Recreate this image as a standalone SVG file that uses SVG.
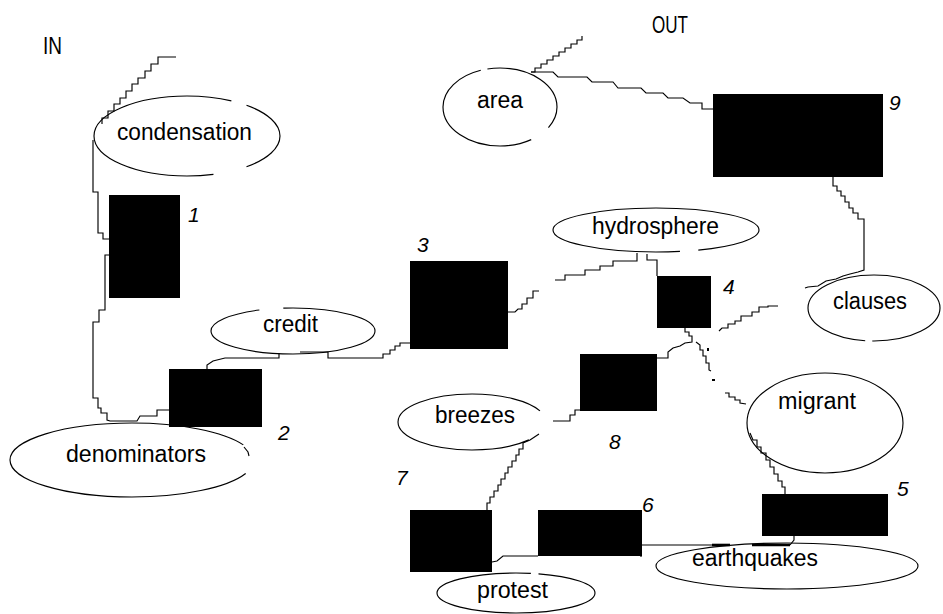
<svg xmlns="http://www.w3.org/2000/svg" width="943" height="614" viewBox="0 0 943 614">
<style>
.bg{fill:#fff}
.e{fill:none;stroke:#000;stroke-width:1.15}
.c{fill:none;stroke:#000;stroke-width:1.15;stroke-linejoin:miter}
.ct{fill:none;stroke:#000;stroke-width:2.6}
.r{fill:#000;stroke:none}
.t{font-family:"Liberation Sans",Arial,sans-serif;font-size:19px;fill:#000}
.n{font-family:"Liberation Sans",Arial,sans-serif;font-size:21px;font-style:italic;fill:#000}
</style>
<rect class="bg" x="0" y="0" width="943" height="614"/>
<text class="t" transform="translate(43,54) scale(1,1.3)" textLength="19" lengthAdjust="spacingAndGlyphs">IN</text>
<text class="t" transform="translate(652,33) scale(1,1.3)" textLength="36" lengthAdjust="spacingAndGlyphs">OUT</text>

<g id="connectors">
<polyline class="c" points="102,124 102,118 108,118 108,111 114,111 114,104 120,104 120,98 126,98 126,91 132,91 132,84 138,84 138,78 145,78 145,71 151,71 151,64 158,64 158,57 176,57"/>
<polyline class="c" points="93,140 93,192 98,192 98,233 103,233 103,239 109,239"/>
<polyline class="c" points="109,255 105,255 105,310 99,310 99,322 93,322 93,398 98,398 98,408 101,408 101,413 107,413 107,420 110,421 137,421 140,416 157,416 157,410 169,410"/>
<polyline class="c" points="279,353 279,358 225,358 213,361 207,365 207,369"/>
<polyline class="c" points="300,352 328,352 328,358 383,358 383,354 390,354 390,350 395,350 395,346 400,346 400,343 410,343"/>
<polyline class="c" points="508,312 515,312 518,309 522,309 522,304 527,304 527,298 533,298 533,291 539,291"/>
<polyline class="c" points="637,253 637,261 613,261 613,266 600,266 600,270 585,270 585,275 565,275 565,280 555,280"/>
<polyline class="c" points="647,254 647,260 657,260 657,276"/>
<polyline class="c" points="685,328 685,332 689,332 689,336 692,336 692,342 685,343 680,346 673,348 668,352 668,358 657,358"/>
<polyline class="c" points="696,342 700,345 700,350 703,350 703,356 706,356 706,363 709,363 709,370 711,371"/>
<rect class="r" x="707" y="348" width="2" height="3"/>
<rect class="r" x="712" y="379" width="3" height="2"/>
<polyline class="c" points="725,393 729,393 729,397 735,397 735,400 740,400 740,403 746,404"/>
<polyline class="c" points="719,331 722,328 728,328 728,324 735,324 735,321 741,321 741,316 752,316 752,312 759,312 759,307 768,307 768,306 778,306"/>
<polyline class="c" points="833,177 833,186 837,186 837,191 841,191 841,196 845,196 845,202 849,202 849,208 853,208 853,213 858,213 858,219 864,219 864,270 858,272 850,274 843,276 836,279 826,281 818,286 808,287 805,288"/>
<polyline class="c" points="531,72 535,72 535,68 541,68 541,64 547,64 547,60 553,60 553,56 559,56 559,52 565,52 565,48 571,48 571,44 577,44 577,40 582,40 582,36"/>
<polyline class="c" points="531,72 553,72 558,77 587,77 592,82 613,82 618,88 641,88 646,93 663,93 668,98 683,98 690,103 702,103 702,109 713,109"/>
<polyline class="c" points="580,410 575,410 575,415 570,415 570,421 553,421"/>
<polyline class="c" points="539,434 530,440 523,443 523,449 519,449 519,455 516,455 516,461 512,461 512,467 508,467 508,473 505,473 505,479 501,479 501,485 498,485 498,491 494,491 494,497 490,497 490,503 487,503 487,510"/>
<polyline class="c" points="492,562 497,561 503,556 538,556"/>
<polyline class="c" points="641,517 641,557"/>
<polyline class="c" points="641,545 712,545"/>
<polyline class="ct" points="712,545 730,545"/>
<polyline class="c" points="794,536 794,540 790,545"/>
<polyline class="ct" points="790,545 752,545"/>
<polyline class="c" points="750,433 753,440 757,440 757,447 761,447 761,453 766,453 766,460 770,460 770,467 774,467 774,474 778,474 778,481 782,481 782,487 785,487 785,494"/>
<polyline class="c" points="244,447 248,452 249,456"/>
</g>

<g id="condensation">
<ellipse class="e" cx="187" cy="136" rx="93" ry="40" pathLength="360" stroke-dasharray="40 28 239 13 40"/>
<text class="t" transform="translate(117,140) scale(1,1.3)" textLength="135" lengthAdjust="spacingAndGlyphs">condensation</text>
</g>
<g id="area">
<ellipse class="e" cx="500" cy="107" rx="57" ry="39" pathLength="360" stroke-dasharray="27 25 195 8 105"/>
<text class="t" transform="translate(477,108) scale(1,1.3)" textLength="46" lengthAdjust="spacingAndGlyphs">area</text>
</g>
<g id="credit">
<ellipse class="e" cx="293" cy="331" rx="82" ry="23" pathLength="360" stroke-dasharray="236 24 100"/>
<text class="t" transform="translate(263,332) scale(1,1.3)" textLength="55" lengthAdjust="spacingAndGlyphs">credit</text>
</g>
<g id="denominators">
<ellipse class="e" cx="132" cy="460" rx="122" ry="37" pathLength="360" stroke-dasharray="336 24" stroke-dashoffset="349"/>
<text class="t" transform="translate(66,462) scale(1,1.3)" textLength="140" lengthAdjust="spacingAndGlyphs">denominators</text>
</g>
<g id="hydrosphere">
<ellipse class="e" cx="656" cy="230" rx="103" ry="22" pathLength="360" stroke-dasharray="55 15 290"/>
<text class="t" transform="translate(592,234) scale(1,1.3)" textLength="127" lengthAdjust="spacingAndGlyphs">hydrosphere</text>
</g>
<g id="clauses">
<ellipse class="e" cx="874" cy="308" rx="66" ry="33" pathLength="360" stroke-dasharray="92 8 260"/>
<text class="t" transform="translate(833,309) scale(1,1.3)" textLength="74" lengthAdjust="spacingAndGlyphs">clauses</text>
</g>
<g id="migrant">
<ellipse class="e" cx="825" cy="423" rx="78" ry="50"/>
<text class="t" transform="translate(778,409) scale(1,1.3)" textLength="78" lengthAdjust="spacingAndGlyphs">migrant</text>
</g>
<g id="breezes">
<ellipse class="e" cx="472" cy="422" rx="74" ry="28" pathLength="360" stroke-dasharray="318 42" stroke-dashoffset="332"/>
<text class="t" transform="translate(435,423) scale(1,1.3)" textLength="80" lengthAdjust="spacingAndGlyphs">breezes</text>
</g>
<g id="protest">
<ellipse class="e" cx="516" cy="593" rx="79" ry="20" pathLength="360" stroke-dasharray="286 8 66"/>
<text class="t" transform="translate(477,598) scale(1,1.3)" textLength="71" lengthAdjust="spacingAndGlyphs">protest</text>
</g>
<g id="earthquakes">
<ellipse class="e" cx="787" cy="566" rx="131" ry="23"/>
<text class="t" transform="translate(692,566) scale(1,1.3)" textLength="126" lengthAdjust="spacingAndGlyphs">earthquakes</text>
</g>

<g id="box1"><rect class="r" x="109" y="195" width="71" height="103"/><text class="n" x="188" y="222">1</text></g>
<g id="box2"><rect class="r" x="169" y="369" width="93" height="58"/><text class="n" x="278" y="440">2</text></g>
<g id="box3"><rect class="r" x="410" y="261" width="98" height="88"/><text class="n" x="417" y="252">3</text></g>
<g id="box4"><rect class="r" x="657" y="276" width="54" height="52"/><text class="n" x="723" y="294">4</text></g>
<g id="box5"><rect class="r" x="762" y="494" width="126" height="42"/><text class="n" x="897" y="496">5</text></g>
<g id="box6"><rect class="r" x="538" y="510" width="104" height="46"/><text class="n" x="642" y="512">6</text></g>
<g id="box7"><rect class="r" x="410" y="510" width="82" height="62"/><text class="n" x="396" y="485">7</text></g>
<g id="box8"><rect class="r" x="580" y="354" width="77" height="57"/><text class="n" x="609" y="449">8</text></g>
<g id="box9"><rect class="r" x="713" y="94" width="170" height="83"/><text class="n" x="889" y="110">9</text></g>
</svg>
